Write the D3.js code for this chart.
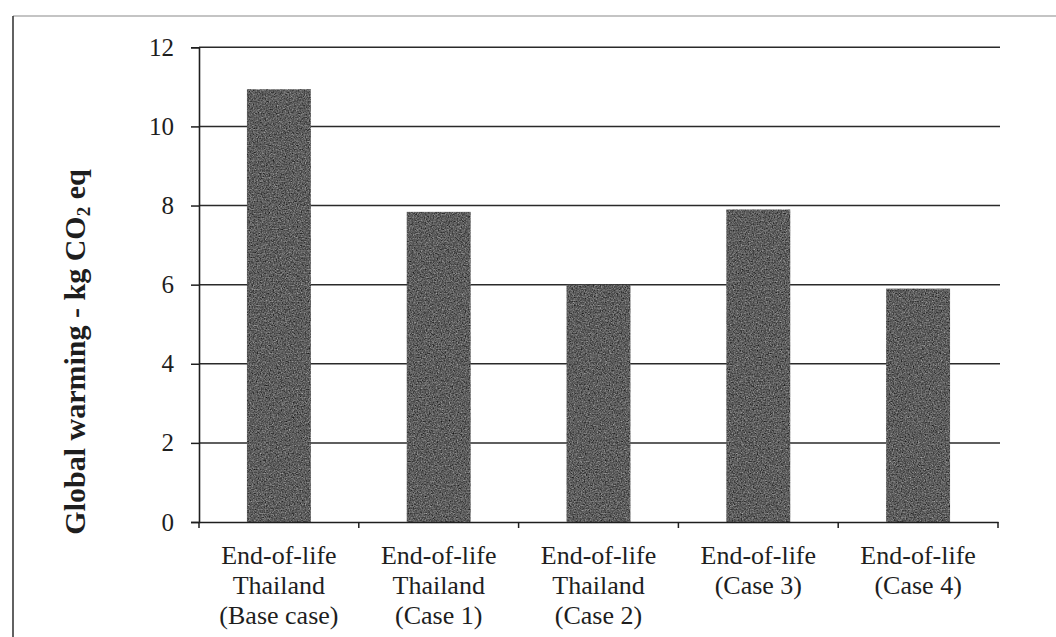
<!DOCTYPE html>
<html>
<head>
<meta charset="utf-8">
<script src="https://cdn.jsdelivr.net/npm/d3@7"></script>
<style>
  html, body { margin: 0; padding: 0; background: #fff; }
  svg { display: block; }
  svg text { font-family: "Liberation Serif", "Times New Roman", serif !important; fill: #1e1e1e; }
</style>
</head>
<body>
<svg id="chart" width="1056" height="637"></svg>
<script>
const categories = [
  ["End-of-life", "Thailand", "(Base case)"],
  ["End-of-life", "Thailand", "(Case 1)"],
  ["End-of-life", "Thailand", "(Case 2)"],
  ["End-of-life", "(Case 3)"],
  ["End-of-life", "(Case 4)"]
];
const categoryKeys = ["base", "case1", "case2", "case3", "case4"];
const values = [10.94, 7.84, 6.0, 7.9, 5.9];
const yTicks = [0, 2, 4, 6, 8, 10, 12];
const yTitle = "Global warming - kg CO";
const yTitleSub = "2";
const yTitleEnd = " eq";

const SERIF = "'Liberation Serif', 'Times New Roman', serif";
const svg = d3.select("#chart");
const W = 1056, H = 637;
const plot = { left: 199, right: 998, top: 47.3, bottom: 522 };

// grain texture for bars
const defs = svg.append("defs");
const f = defs.append("filter").attr("id", "grain")
  .attr("x", 0).attr("y", 0).attr("width", "100%").attr("height", "100%")
  .attr("color-interpolation-filters", "sRGB");
f.append("feTurbulence").attr("type", "fractalNoise").attr("baseFrequency", 0.75)
  .attr("numOctaves", 2).attr("seed", 4).attr("result", "noise");
f.append("feColorMatrix").attr("in", "noise").attr("type", "matrix")
  .attr("values", "0.33 0.33 0.33 0 0  0.33 0.33 0.33 0 0  0.33 0.33 0.33 0 0  0 0 0 0 1")
  .attr("result", "gray");
const ct = f.append("feComponentTransfer").attr("in", "gray").attr("result", "tone");
["feFuncR", "feFuncG", "feFuncB"].forEach(n =>
  ct.append(n).attr("type", "linear").attr("slope", 1.1).attr("intercept", -0.18));
f.append("feComposite").attr("in", "tone").attr("in2", "SourceGraphic").attr("operator", "in");

// outer frame
svg.append("line").attr("x1", 13).attr("x2", W).attr("y1", 16).attr("y2", 16)
  .attr("stroke", "#8a8a8a").attr("stroke-width", 1.2);
svg.append("line").attr("x1", 13).attr("x2", 13).attr("y1", 16).attr("y2", H)
  .attr("stroke", "#3a3a3a").attr("stroke-width", 1.6);

const x = d3.scaleBand().domain(categoryKeys)
  .range([plot.left, plot.right]).paddingInner(0.6).paddingOuter(0.3);
const y = d3.scaleLinear().domain([0, 12]).range([plot.bottom, plot.top]);

// gridlines
svg.append("g").selectAll("line").data(yTicks.filter(d => d > 0)).join("line")
  .attr("x1", plot.left).attr("x2", plot.right + 2)
  .attr("y1", d => y(d)).attr("y2", d => y(d))
  .attr("stroke", "#2a2a2a").attr("stroke-width", 1.5);

// bars
svg.append("g").selectAll("rect").data(values).join("rect")
  .attr("x", (d, i) => x(categoryKeys[i]))
  .attr("y", d => y(d))
  .attr("width", x.bandwidth())
  .attr("height", d => y(0) - y(d))
  .attr("fill", "#5a5a5a")
  .attr("filter", "url(#grain)");

// y axis
const yAxis = svg.append("g").attr("transform", `translate(${plot.left},0)`)
  .call(d3.axisLeft(y).tickValues(yTicks).tickFormat(d3.format("d")).tickSize(8).tickPadding(17));
yAxis.attr("font-family", SERIF);
yAxis.select(".domain").attr("stroke", "#1e1e1e").attr("stroke-width", 1.6);
yAxis.selectAll(".tick line").attr("stroke", "#1e1e1e").attr("stroke-width", 1.5);
yAxis.selectAll(".tick text").attr("font-size", 25)
  .style("font-family", SERIF).attr("fill", "#1e1e1e");

// x axis
const xAxis = svg.append("g").attr("transform", `translate(0,${plot.bottom})`)
  .call(d3.axisBottom(x).tickSize(0).tickFormat(""));
xAxis.select(".domain").attr("stroke", "#1e1e1e").attr("stroke-width", 1.6);

// boundary ticks
const bounds = d3.range(categoryKeys.length + 1).map(i => plot.left + i * x.step());
svg.append("g").selectAll("line").data(bounds).join("line")
  .attr("x1", d => d).attr("x2", d => d)
  .attr("y1", plot.bottom).attr("y2", plot.bottom + 6)
  .attr("stroke", "#1e1e1e").attr("stroke-width", 1.5);

// category labels
const lab = svg.append("g").selectAll("text").data(categories).join("text")
  .attr("text-anchor", "middle")
  .attr("font-size", 26)
  .style("font-family", SERIF)
  .attr("transform", (d, i) => `translate(${x(categoryKeys[i]) + x.bandwidth() / 2},563.5)`);
lab.selectAll("tspan").data(d => d).join("tspan")
  .attr("x", 0).attr("dy", (d, i) => i === 0 ? 0 : 30).text(d => d);

// y title
const t = svg.append("text")
  .attr("transform", "translate(85,352) rotate(-90)")
  .attr("text-anchor", "middle")
  .style("font-family", SERIF)
  .attr("font-size", 30).attr("font-weight", "bold");
t.append("tspan").text(yTitle);
t.append("tspan").attr("font-size", 19).attr("dy", 5).text(yTitleSub);
t.append("tspan").attr("dy", -5).text(yTitleEnd);
</script>
</body>
</html>
